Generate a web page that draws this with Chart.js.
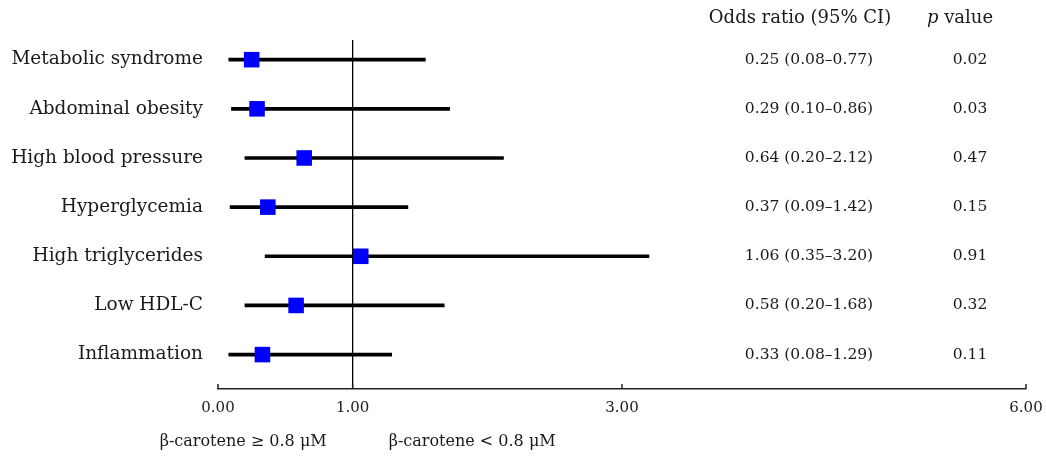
<!DOCTYPE html>
<html>
<head>
<meta charset="utf-8">
<script src="https://cdn.jsdelivr.net/npm/chart.js@4/dist/chart.umd.min.js"></script>
<style>
  body { margin: 0; background: #fff; }
  #caixa { width: 1046px; height: 461px; position: relative; }
</style>
</head>
<body>
<div id="caixa"><canvas id="grafico"></canvas></div>
<script>
// dados
var desfechos = ['Metabolic syndrome', 'Abdominal obesity', 'High blood pressure', 'Hyperglycemia',
  'High triglycerides', 'Low HDL-C', 'Inflammation'];
var oddsRatio = [0.25, 0.29, 0.64, 0.37, 1.06, 0.58, 0.33];
var icInferior = [0.08, 0.10, 0.20, 0.09, 0.35, 0.20, 0.08];
var icSuperior = [1.54, 1.72, 2.12, 1.41, 3.20, 1.68, 1.29];
var textoOR = ['0.25 (0.08–0.77)', '0.29 (0.10–0.86)', '0.64 (0.20–2.12)', '0.37 (0.09–1.42)',
  '1.06 (0.35–3.20)', '0.58 (0.20–1.68)', '0.33 (0.08–1.29)'];
var valoresP = ['0.02', '0.03', '0.47', '0.15', '0.91', '0.32', '0.11'];
var ticksX = [0, 1, 3, 6];
var grupos = ['β-carotene ≥ 0.8 μM', 'β-carotene < 0.8 μM'];

var fonte = "'DejaVu Serif', serif";
var corTexto = '#1a1a1a';

var pluginTabela = {
  id: 'tabela',
  afterDraw: function (chart) {
    var ctx = chart.ctx;
    var x = chart.scales.x;
    var y = chart.scales.y;
    var base = chart.chartArea.bottom;
    ctx.save();
    ctx.fillStyle = corTexto;
    ctx.strokeStyle = '#222';
    ctx.lineWidth = 1.5;

    // tracinhos para cima no eixo
    ticksX.forEach(function (v) {
      var px = x.getPixelForValue(v);
      ctx.beginPath();
      ctx.moveTo(px, base);
      ctx.lineTo(px, base - 5);
      ctx.stroke();
    });

    // cabeçalho
    ctx.textBaseline = 'middle';
    ctx.textAlign = 'center';
    ctx.font = '18px ' + fonte;
    ctx.fillText('Odds ratio (95% CI)', 800, 18);
    ctx.font = 'italic 18px ' + fonte;
    var wp = ctx.measureText('p ').width;
    ctx.font = '18px ' + fonte;
    var wv = ctx.measureText('value').width;
    var ini = 960 - (wp + wv) / 2;
    ctx.textAlign = 'left';
    ctx.font = 'italic 18px ' + fonte;
    ctx.fillText('p', ini, 18);
    ctx.font = '18px ' + fonte;
    ctx.fillText('value', ini + wp, 18);

    // colunas
    ctx.textAlign = 'center';
    ctx.font = '15.5px ' + fonte;
    for (var i = 0; i < desfechos.length; i++) {
      var py = y.getPixelForValue(i + 1);
      ctx.fillText(textoOR[i], 809, py);
      ctx.fillText(valoresP[i], 970, py);
    }

    // rótulos dos grupos
    var meio = x.getPixelForValue(1);
    ctx.font = '16px ' + fonte;
    ctx.textAlign = 'right';
    ctx.fillText(grupos[0], meio - 26, 442);
    ctx.textAlign = 'left';
    ctx.fillText(grupos[1], meio + 36, 442);
    ctx.restore();
  }
};

new Chart(document.getElementById('grafico'), {
  type: 'bar',
  data: {
    datasets: [{
      type: 'scatter',
      data: oddsRatio.map(function (v, i) { return { x: v, y: i + 1 }; }),
      pointStyle: 'rect',
      pointRadius: 11,
      pointHoverRadius: 11,
      backgroundColor: '#0000ff',
      borderWidth: 0,
      showLine: false
    }, {
      type: 'bar',
      indexAxis: 'y',
      data: desfechos.map(function (d, i) { return { y: i + 1, x: [icInferior[i], icSuperior[i]] }; }),
      backgroundColor: '#000',
      barThickness: 3
    }]
  },
  options: {
    responsive: true,
    maintainAspectRatio: false,
    animation: false,
    events: [],
    layout: { padding: { top: 40, right: 20, left: 0, bottom: 0 } },
    plugins: { legend: { display: false }, tooltip: { enabled: false } },
    scales: {
      x: {
        type: 'linear',
        offset: false,
        min: 0,
        max: 6,
        afterBuildTicks: function (s) { s.ticks = ticksX.map(function (v) { return { value: v }; }); },
        afterFit: function (s) { s.height = 72; s.paddingLeft = 0; s.paddingRight = 0; },
        ticks: {
          callback: function (v) { return Number(v).toFixed(2); },
          font: { family: fonte, size: 15 },
          color: corTexto,
          padding: 10,
          maxRotation: 0
        },
        grid: {
          offset: false,
          drawTicks: false,
          lineWidth: 1.3,
          color: function (c) { return c.tick && c.tick.value === 1 ? '#000' : 'rgba(0,0,0,0)'; }
        },
        border: { display: true, color: '#222', width: 1.5 }
      },
      y: {
        type: 'linear',
        offset: false,
        reverse: true,
        min: 0.6,
        max: 7.7,
        afterBuildTicks: function (s) { s.ticks = desfechos.map(function (d, i) { return { value: i + 1 }; }); },
        afterFit: function (s) { s.width = 218; s.paddingTop = 0; s.paddingBottom = 0; },
        ticks: {
          callback: function (v) { return desfechos[v - 1]; },
          font: { family: fonte, size: 18.5 },
          color: corTexto,
          padding: 15
        },
        grid: { offset: false, display: false, drawTicks: false },
        border: { display: false }
      }
    }
  },
  plugins: [pluginTabela]
});
</script>
</body>
</html>
